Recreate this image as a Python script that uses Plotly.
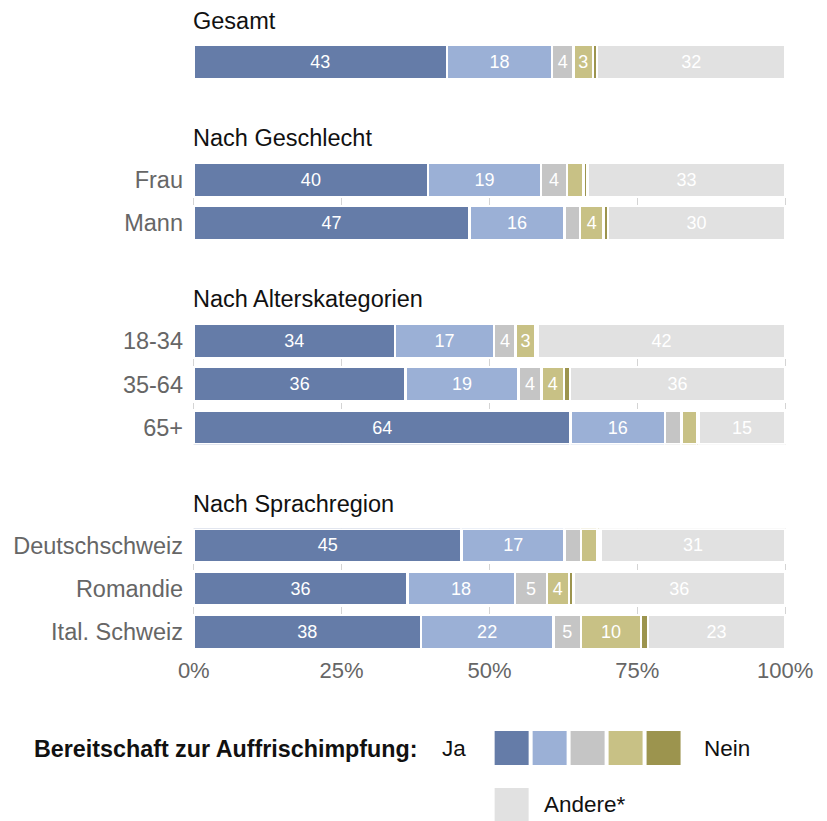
import plotly.graph_objects as go

# ---- data (percent of respondents) -------------------------------------
group_titles = ["Gesamt", "Nach Geschlecht", "Nach Alterskategorien", "Nach Sprachregion"]
group_rows = [
    [""],
    ["Frau", "Mann"],
    ["18-34", "35-64", "65+"],
    ["Deutschschweiz", "Romandie", "Ital. Schweiz"],
]

# one value per row, rows in the order listed above
ja =        [42.8, 39.6, 46.6, 34.0, 35.8, 63.7, 45.3, 36.1, 38.4]
eher_ja =   [17.8, 19.1, 16.1, 16.8, 19.1, 16.0, 17.4, 18.2, 22.4]
unsicher =  [3.6, 4.4, 2.6, 3.6, 3.9, 2.8, 2.8, 5.4, 4.7]
eher_nein = [3.3, 2.8, 4.0, 3.4, 3.8, 2.6, 2.8, 3.7, 10.1]
nein =      [0.7, 0.7, 0.7, 0.4, 1.0, 0.3, 0.5, 0.8, 1.2]
andere =    [31.8, 33.4, 30.0, 41.8, 36.4, 14.6, 31.2, 35.8, 23.2]

series = [ja, eher_ja, unsicher, eher_nein, nein, andere]
colors = ["#657ca8", "#9bb0d6", "#c5c5c5", "#c8c185", "#9c944e", "#e1e1e1"]

x_ticks = [0, 25, 50, 75, 100]
x_ticktext = ["0%", "25%", "50%", "75%", "100%"]

legend_title = "Bereitschaft zur Auffrischimpfung:"
legend_left, legend_right, legend_other = "Ja", "Nein", "Andere*"

# ---- geometry -----------------------------------------------------------
W, H = 827, 821
X_PAD = 0.3                      # keeps the 0 % / 100 % grid lines visible
PX_PER_PCT = 5.917
L = 194.0 - X_PAD * PX_PER_PCT
PW = (100 + 2 * X_PAD) * PX_PER_PCT
R = W - L - PW
T, B = 44.5, 172.0
PH = H - T - B

UNIT = 43.3                      # pixel distance between rows
BAR_FRAC = 0.79                  # bar thickness relative to row distance
FONT = "Liberation Sans, Arial, Helvetica, sans-serif"
LABEL_GREY = "#666666"
TEXT_SIZE = 23.5


def px_x(px):
    return (px - L) / PW


def px_y(py):
    return (H - B - py) / PH


heights = [(len(r) - 1) * UNIT + BAR_FRAC * UNIT for r in group_rows]
gap = (PH - sum(heights)) / (len(group_rows) - 1)

fig = go.Figure()
layout = dict(
    width=W, height=H,
    margin=dict(l=L, r=R, t=T, b=B, pad=0),
    paper_bgcolor="white", plot_bgcolor="white",
    barmode="stack", bargap=1 - BAR_FRAC, showlegend=False,
    font=dict(family=FONT, size=22, color=LABEL_GREY),
)

annotations = []
top = 0.0
row_offset = 0
n_groups = len(group_rows)
for g, rows in enumerate(group_rows):
    k = g + 1
    n = len(rows)
    h = heights[g]
    dom = [1 - (top + h) / PH, 1 - top / PH]
    xa, ya, yr = f"x{k}", f"y{k}", f"y{k + n_groups}"
    yrange = [n - 1 + BAR_FRAC / 2, -BAR_FRAC / 2]

    for s, vals in enumerate(series):
        part = vals[row_offset:row_offset + n]
        fig.add_trace(go.Bar(
            x=part, y=list(range(n)), orientation="h",
            xaxis=xa, yaxis=ya,
            marker=dict(color=colors[s], line=dict(color="white", width=2.5)),
            text=[str(int(v + 0.5)) if v >= 3 else "" for v in part],
            textposition="inside", insidetextanchor="middle", textangle=0,
            textfont=dict(family=FONT, size=18, color="white"),
            hoverinfo="skip",
        ))

    layout[f"xaxis{k}"] = dict(
        domain=[0, 1], anchor=ya, range=[-X_PAD, 100 + X_PAD],
        tickvals=x_ticks, ticktext=x_ticktext,
        showgrid=True, gridcolor="#d4d4d4", gridwidth=1,
        zeroline=False, showline=False, ticks="",
        showticklabels=(k == n_groups),
        tickfont=dict(size=22, color=LABEL_GREY),
        ticklabelstandoff=6,
        fixedrange=True,
    )
    if k != n_groups:
        layout[f"xaxis{k}"]["matches"] = f"x{n_groups}"

    layout[f"yaxis{k}"] = dict(
        domain=dom, anchor=xa, range=yrange,
        tickvals=list(range(n)), ticktext=rows,
        showgrid=False, zeroline=False, showline=False, ticks="",
        tickfont=dict(size=TEXT_SIZE, color=LABEL_GREY),
        ticklabelstandoff=8,
    )
    # short tick marks on the right edge of every row
    layout[f"yaxis{k + n_groups}"] = dict(
        overlaying=ya, anchor=xa, side="right", range=yrange,
        tickvals=list(range(n)), showticklabels=False,
        ticks="outside", ticklen=5, tickwidth=1, tickcolor="#d0d0d0",
        showgrid=False, zeroline=False, showline=False,
    )

    annotations.append(dict(
        text=group_titles[g], xref="paper", yref="paper",
        x=px_x(191.5), y=px_y(T + top - 24.5),
        xanchor="left", yanchor="middle", showarrow=False,
        font=dict(family=FONT, size=TEXT_SIZE, color="#111111"),
    ))

    top += h + gap
    row_offset += n

# ---- legend built from shapes and text ---------------------------------
shapes = []
SW, PITCH = 34, 38
sw_x0, sw_y0 = 495, 731
for i, c in enumerate(colors[:5]):
    x0 = sw_x0 + i * PITCH
    shapes.append(dict(type="rect", xref="paper", yref="paper",
                       x0=px_x(x0), x1=px_x(x0 + SW),
                       y0=px_y(sw_y0 + SW), y1=px_y(sw_y0),
                       fillcolor=c, line=dict(width=0), layer="above"))
shapes.append(dict(type="rect", xref="paper", yref="paper",
                   x0=px_x(sw_x0), x1=px_x(sw_x0 + SW),
                   y0=px_y(788 + SW), y1=px_y(788),
                   fillcolor=colors[5], line=dict(width=0), layer="above"))

legend_font = dict(family=FONT, size=22.5, color="#111111")
annotations += [
    dict(text=f"<b>{legend_title}</b>", xref="paper", yref="paper",
         x=px_x(420), y=px_y(749), xanchor="right", yanchor="middle",
         showarrow=False, font=dict(family=FONT, size=23.3, color="#111111")),
    dict(text=legend_left, xref="paper", yref="paper",
         x=px_x(440), y=px_y(749), xanchor="left", yanchor="middle",
         showarrow=False, font=legend_font),
    dict(text=legend_right, xref="paper", yref="paper",
         x=px_x(702), y=px_y(749), xanchor="left", yanchor="middle",
         showarrow=False, font=legend_font),
    dict(text=legend_other, xref="paper", yref="paper",
         x=px_x(542), y=px_y(805), xanchor="left", yanchor="middle",
         showarrow=False, font=legend_font),
]

layout["annotations"] = annotations
layout["shapes"] = shapes
fig.update_layout(**layout)

fig.write_html("out.html", config={"displayModeBar": False})
